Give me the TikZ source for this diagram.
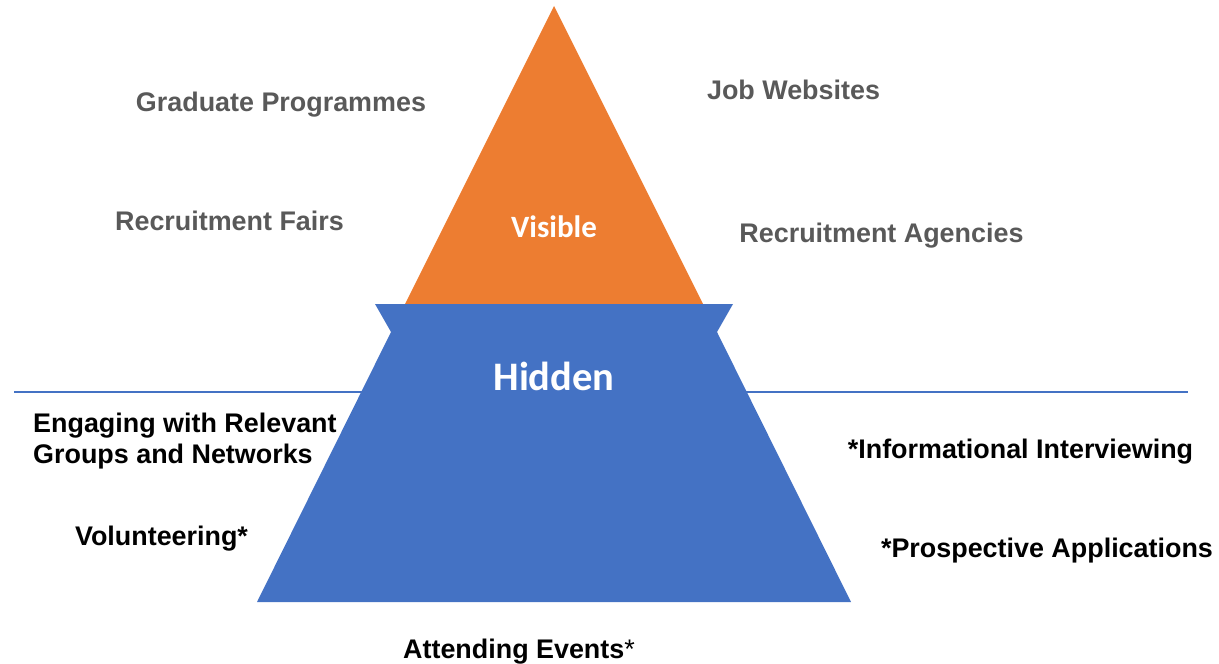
\documentclass[tikz,border=0pt]{standalone}
\usepackage{fontspec}
\setmainfont{Liberation Sans}
\newfontfamily\calibfont{Carlito}
\definecolor{pyrgray}{HTML}{595959}
\definecolor{pyrblue}{HTML}{4472C4}
\definecolor{pyrorange}{HTML}{ED7D31}
\tikzset{
  lbl/.style={inner sep=0pt, anchor=base, font=\fontsize{26.9bp}{31bp}\selectfont\bfseries},
  graytxt/.style={lbl, text=pyrgray},
  blacktxt/.style={lbl, text=black},
  whitetxt/.style={inner sep=0pt, anchor=base, text=white},
  waterline/.style={draw=pyrblue, line width=1.2bp},
}
\begin{document}
\begin{tikzpicture}[x=1bp,y=-1bp]
\useasboundingbox (0,0) rectangle (1219,664);
% horizontal line behind
\coordinate (wl) at (14,392);
\coordinate (wr) at (1188,392);
\draw[waterline] (wl) -- (wr);
% orange triangle
\fill[pyrorange] (554,6) -- (703,304) -- (405,304) -- cycle;
% blue shape
\fill[pyrblue] (375,304) -- (733,304) -- (717,332) -- (851,602) -- (257,602) -- (391,332) -- cycle;
% inner labels
\node[whitetxt, font=\calibfont\fontsize{31bp}{36bp}\selectfont\bfseries] (vis) at (554,238) {Visible};
\node[whitetxt, font=\calibfont\fontsize{40.5bp}{46bp}\selectfont\bfseries] (hid) at (554,390) {Hidden};
% gray labels
\node[graytxt] (grad) at (281,112) {Graduate Programmes};
\node[graytxt] (fairs) at (229.5,231) {Recruitment Fairs};
\node[graytxt] (jobs) at (793.5,100) {Job Websites};
\node[graytxt] (agen) at (881.5,243) {Recruitment Agencies};
% black labels
\node[blacktxt, anchor=base west] (eng1) at (33,432) {Engaging with Relevant};
\node[blacktxt, anchor=base west] (eng2) at (33,463) {Groups and Networks};
\node[blacktxt] (vol) at (161.5,545) {Volunteering*};
\node[blacktxt] (info) at (1020.5,458) {*Informational Interviewing};
\node[blacktxt] (prosp) at (1047,557) {*Prospective Applications};
\node[blacktxt] (att) at (519,658) {Attending Events\textmd{*}};
\end{tikzpicture}
\end{document}
